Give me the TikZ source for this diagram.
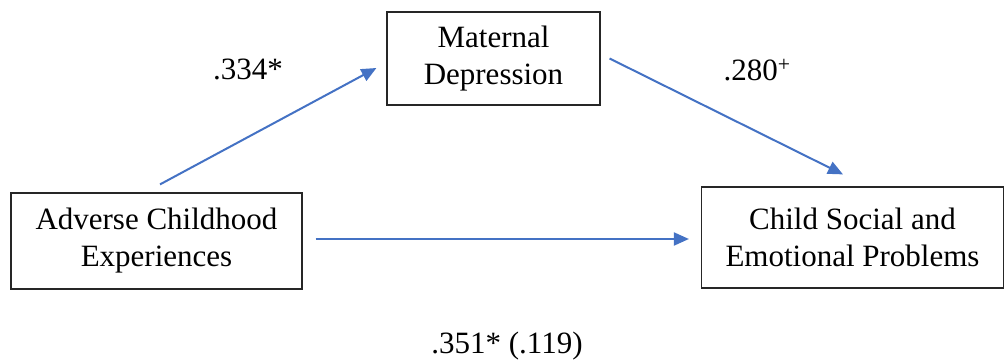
\documentclass[tikz,border=0pt]{standalone}
\usepackage{fontspec}
\setmainfont{Liberation Serif}
\usepackage{xcolor}
\usetikzlibrary{positioning,arrows.meta}
\definecolor{pathblue}{RGB}{68,114,196}

\begin{document}
\begin{tikzpicture}[
  x=1pt, y=1pt,
  box/.style={draw=black!85, line width=1.2pt, align=center, inner sep=0pt,
    font=\fontsize{31}{37}\selectfont},
  coef/.style={font=\fontsize{31}{37}\selectfont, inner sep=0pt},
  arrow/.style={-{Triangle[length=15pt,width=13pt]}, line width=2pt, draw=pathblue}
]
\useasboundingbox (0,0) rectangle (1006,360);
\node[box, minimum width=291pt, minimum height=96pt] (ace) at (156.5,119) {Adverse Childhood \\ Experiences};
\node[box, minimum width=213pt, minimum height=93pt] (mdep) at (493.5,301.5) {Maternal \\ Depression};
\node[box, minimum width=302pt, minimum height=101pt] (csep) at (852.5,122.5) {Child Social and \\ Emotional Problems};
\draw[arrow] ([xshift=3.5pt,yshift=8pt]ace.north) -- ([xshift=-10pt,yshift=-9.5pt]mdep.west);
\draw[arrow] ([xshift=9pt]mdep.east) -- ([xshift=-9.5pt,yshift=12pt]csep.north);
\draw[arrow] ([xshift=13pt,yshift=2pt]ace.east) -- ([xshift=-12pt,yshift=2pt]ace.east -| csep.west);
\node[coef] (a334) at (248,291) {.334*};
\node[coef] (b280) at (757,290) {.280\textsuperscript{+}};
\node[coef] (c351) at (507,14) {.351* (.119)};
\end{tikzpicture}
\end{document}
